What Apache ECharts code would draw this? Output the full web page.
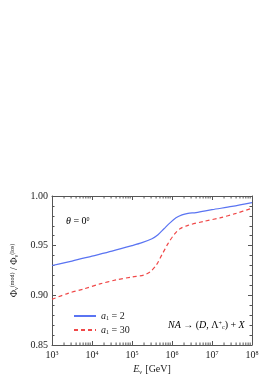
<!DOCTYPE html>
<html><head><meta charset="utf-8">
<script src="https://cdn.jsdelivr.net/npm/echarts@6/dist/echarts.min.js"></script>
<style>html,body{margin:0;padding:0;background:#fff}#c{width:275px;height:390px}</style>
</head><body><div id="c"></div>
<script>
// log10(E / GeV) for each curve
const blueExp = [3.0, 3.5, 4.0, 4.5, 5.0, 5.25, 5.5, 5.65, 5.8, 5.95, 6.1, 6.25, 6.4, 6.6, 7.0, 7.5, 8.0];
const blueVal = [0.930, 0.9345, 0.9395, 0.9445, 0.950, 0.953, 0.957, 0.961, 0.967, 0.973, 0.978, 0.981, 0.9825, 0.9833, 0.9862, 0.9895, 0.9933];
const redExp = [3.0, 3.4, 3.8, 4.2, 4.6, 5.0, 5.3, 5.45, 5.6, 5.75, 5.9, 6.05, 6.2, 6.4, 6.8, 7.2, 7.6, 8.0];
const redVal = [0.896, 0.902, 0.9065, 0.9115, 0.9155, 0.9185, 0.9205, 0.9235, 0.930, 0.941, 0.952, 0.961, 0.967, 0.9705, 0.9745, 0.978, 0.9825, 0.9877];
const seriesNames = ['a1 = 2', 'a1 = 30'];
const legendLabels = ['2', '30'];
const yTicks = [0.85, 0.90, 0.95, 1.00];
const xMinExp = 3, xMaxExp = 8;

const FONT = 'Liberation Serif';
const AX = '#555';
const toPts = (e, v) => e.map((x, i) => [Math.pow(10, x), v[i]]);
const rich = {
  n: {fontFamily: FONT, fontSize: 10, color: '#222'},
  i: {fontFamily: FONT, fontSize: 10, fontStyle: 'italic', color: '#222'},
  sup: {fontFamily: FONT, fontSize: 6, color: '#222', verticalAlign: 'top', lineHeight: 8},
  sub: {fontFamily: FONT, fontSize: 6, color: '#222', verticalAlign: 'bottom', lineHeight: 8}
};

// minor log ticks (2..9 x 10^n)
const minorX = [];
for (let n = xMinExp; n < xMaxExp; n++) for (let k = 2; k <= 9; k++) minorX.push(k * Math.pow(10, n));

const chart = echarts.init(document.getElementById('c'), null, {renderer: 'canvas'});
const commonAxisLine = {show: true, lineStyle: {color: AX, width: 1}};
chart.setOption({
  animation: false,
  grid: {left: 52, right: 23, top: 196, bottom: 45, containLabel: false},
  xAxis: [{
    type: 'log', logBase: 10, min: Math.pow(10, xMinExp), max: Math.pow(10, xMaxExp),
    axisLine: commonAxisLine,
    axisTick: {show: true, inside: true, length: 4, lineStyle: {color: AX}},
    minorTick: {show: false},
    splitLine: {show: false},
    axisLabel: {margin: 5, rich: rich, formatter: v => '{n|10}{sup|' + Math.round(Math.log10(v)) + '}'},
    name: '{i|E}{sub|ν} {n|[GeV]}', nameLocation: 'middle', nameGap: 18,
    nameTextStyle: {rich: rich}
  }, {
    type: 'log', logBase: 10, position: 'top', min: Math.pow(10, xMinExp), max: Math.pow(10, xMaxExp),
    axisLine: commonAxisLine,
    axisTick: {show: true, inside: true, length: 4, lineStyle: {color: AX}},
    axisLabel: {show: false}, splitLine: {show: false}
  }],
  yAxis: [{
    type: 'value', min: yTicks[0], max: yTicks[yTicks.length - 1], interval: 0.05,
    axisLine: commonAxisLine,
    axisTick: {show: true, inside: true, length: 4, lineStyle: {color: AX}},
    minorTick: {show: true, splitNumber: 5, length: 2.5, lineStyle: {color: AX}},
    splitLine: {show: false},
    axisLabel: {margin: 4, fontFamily: FONT, fontSize: 10, color: '#222', formatter: v => v.toFixed(2)},
    name: 'Φ{sub|ν}{sup|(mod)} {n|/} Φ{sub|ν}{sup|(los)}', nameLocation: 'middle', nameGap: 27, nameRotate: 90,
    nameTextStyle: {fontFamily: FONT, fontSize: 10, color: '#222', rich: rich}
  }, {
    type: 'value', position: 'right', min: yTicks[0], max: yTicks[yTicks.length - 1], interval: 0.05,
    axisLine: commonAxisLine,
    axisTick: {show: true, inside: true, length: 4, lineStyle: {color: AX}},
    minorTick: {show: true, splitNumber: 5, length: 2.5, lineStyle: {color: AX}},
    axisLabel: {show: false}, splitLine: {show: false}
  }],
  legend: {
    left: 68, top: 306, orient: 'vertical', itemGap: 4, itemWidth: 22, itemHeight: 10,
    itemStyle: {opacity: 0},
    formatter: name => '{i|a}{sub|1}{n| = ' + legendLabels[seriesNames.indexOf(name)] + '}',
    textStyle: {fontFamily: FONT, fontSize: 10, color: '#222', rich: rich},
    data: seriesNames
  },
  graphic: [
    {type: 'text', left: 66, top: 216, style: {text: '{i|θ}{n| = 0}{sup|0}', rich: rich}},
    {type: 'text', left: 168, top: 320, style: {text: '{i|NA}{n| → (}{i|D}{n|, Λ}{sup|+}{sub|c}{n|) + }{i|X}', rich: rich}}
  ],
  series: [
    {name: seriesNames[0], type: 'line', data: toPts(blueExp, blueVal), smooth: 0.3, symbol: 'none',
     lineStyle: {color: '#5a74f2', width: 1.2}, itemStyle: {color: '#5a74f2'}},
    {name: seriesNames[1], type: 'line', data: toPts(redExp, redVal), smooth: 0.3, symbol: 'none',
     lineStyle: {color: '#f04848', width: 1.2, type: [4, 3]}, itemStyle: {color: '#f04848'}},
    {type: 'custom', silent: true, data: minorX.map(v => [v]),
     renderItem: (params, api) => {
       const xb = api.coord([api.value(0), yTicks[0]]);
       const xt = api.coord([api.value(0), yTicks[yTicks.length - 1]]);
       return {type: 'group', children: [
         {type: 'line', shape: {x1: xb[0], y1: xb[1], x2: xb[0], y2: xb[1] - 2.5}, style: {stroke: AX, lineWidth: 1}},
         {type: 'line', shape: {x1: xt[0], y1: xt[1], x2: xt[0], y2: xt[1] + 2.5}, style: {stroke: AX, lineWidth: 1}}
       ]};
     }}
  ]
});
</script></body></html>
